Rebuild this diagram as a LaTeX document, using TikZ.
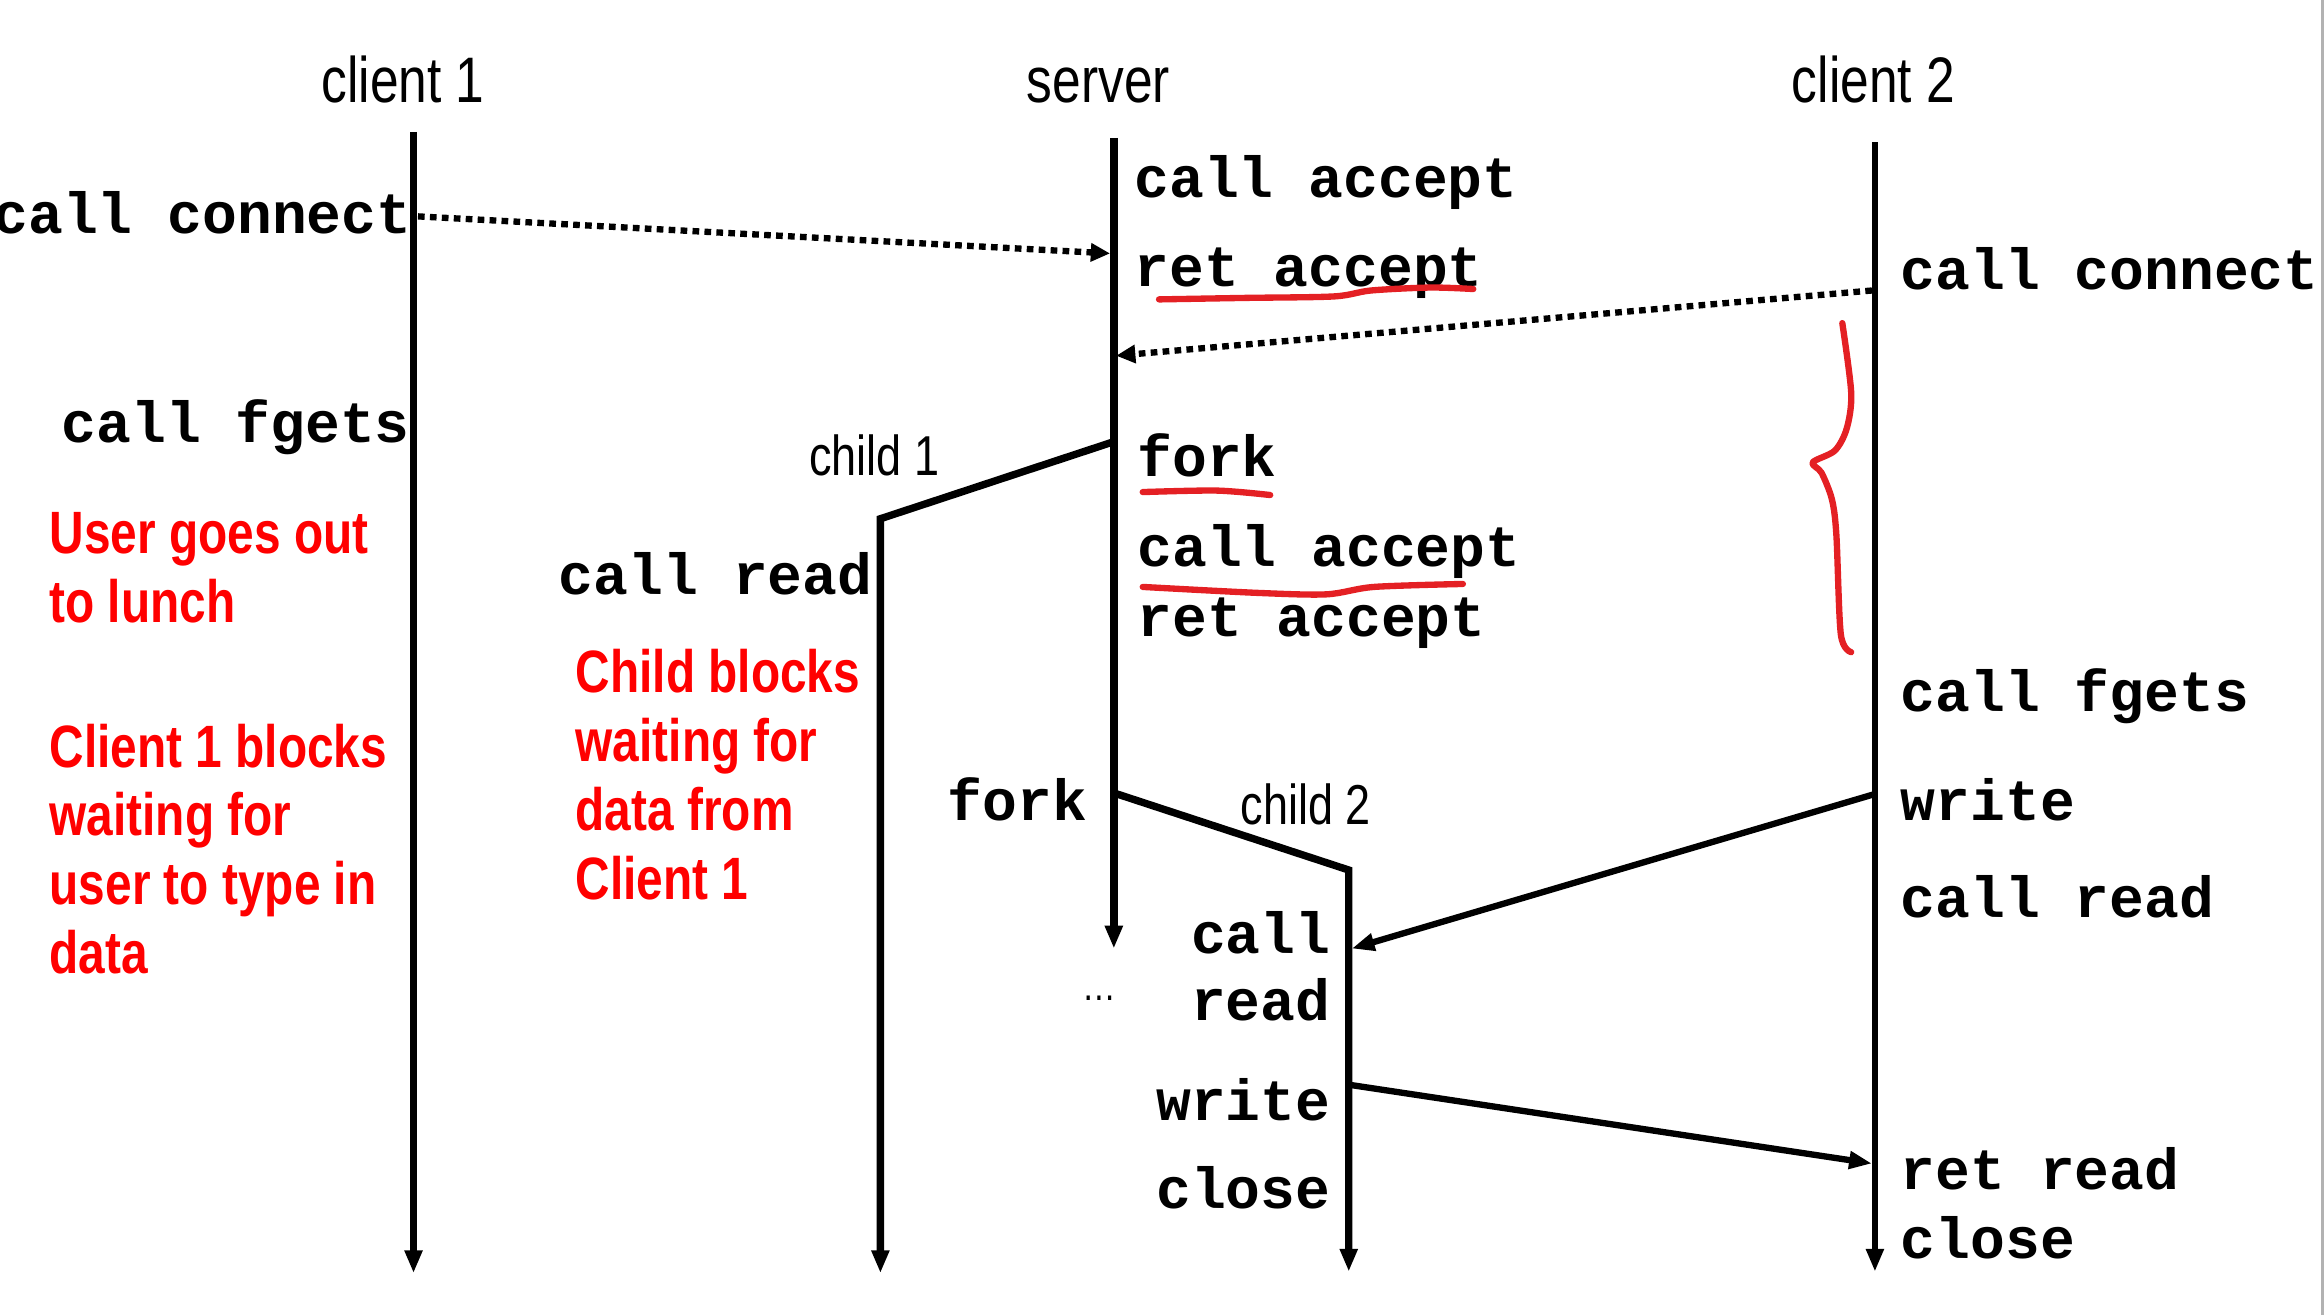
\documentclass[tikz,border=0pt]{standalone}
\usepackage{fontspec}
\usepackage{tikz}
\usetikzlibrary{arrows.meta,calc}
\newfontfamily\narrowsf[FakeStretch=0.8]{Liberation Sans}
\newfontfamily\codett{Liberation Mono}
\definecolor{penred}{RGB}{228,32,36}
\definecolor{edgegray}{RGB}{178,178,178}

\begin{document}
\begin{tikzpicture}[x=0.014821cm, y=-0.014821cm,
    code/.style={font=\codett\bfseries\fontsize{16.5}{18}\selectfont, inner sep=0pt, yshift=-1.4pt},
    who/.style={font=\narrowsf\fontsize{18.3}{20}\selectfont, inner sep=0pt, anchor=base},
    kid/.style={font=\narrowsf\fontsize{16}{18}\selectfont, inner sep=0pt, anchor=base},
    note/.style={font=\narrowsf\bfseries\fontsize{17}{19.6}\selectfont, text=red, align=left, inner sep=0pt, anchor=base west},
    life/.style={line width=2.1pt, line join=miter, -{Triangle[length=6.5pt,width=4.8pt]}},
    msg/.style={line width=1.8pt, -{Triangle[length=6.5pt,width=4.8pt]}},
    conn/.style={line width=1.8pt, dash pattern=on 1.9pt off 1.5pt, -{Triangle[length=5.5pt,width=5pt]}},
    pen/.style={penred, line width=1.8pt, line cap=round, line join=round}]
    \useasboundingbox (0,0) rectangle (1568,887);
    \fill[edgegray] (1566,0) rectangle (1568,887);

    \node[who] (hc1) at (272,69) {client 1};
    \node[who] (hsrv) at (741,69) {server};
    \node[who] (hc2) at (1264,69) {client 2};

    \coordinate (c1top) at (279,89);
    \coordinate (c1end) at (279,859);
    \coordinate (srvtop) at (751.5,93);
    \coordinate (srvend) at (751.5,640);
    \coordinate (c2top) at (1265,96);
    \coordinate (c2end) at (1265,858);
    \coordinate (fork1) at (751.5,298);
    \coordinate (ch1top) at (594,350);
    \coordinate (ch1end) at (594,859);
    \coordinate (fork2) at (751.5,535);
    \coordinate (ch2top) at (910,587);
    \coordinate (ch2end) at (910,858);

    \draw[life] (c1top) -- (c1end);
    \draw[life] (srvtop) -- (srvend);
    \draw[life, line width=1.6pt] (c2top) -- (c2end);
    \draw[life] (fork1) -- (ch1top) -- (ch1end);
    \draw[life] (fork2) -- (ch2top) -- (ch2end);

    \coordinate (c1conn) at (282,146);
    \coordinate (srvacc) at (749,171);
    \coordinate (c2conn) at (1263,196);
    \coordinate (srvacc2) at (753,240);
    \coordinate (c2write) at (1264,536);
    \coordinate (ch2read) at (912,640);
    \coordinate (ch2write) at (911,732);
    \coordinate (c2ret) at (1263,785);

    \draw[conn] (c1conn) -- (srvacc);
    \draw[conn] (c2conn) -- (srvacc2);
    \draw[msg] (c2write) -- (ch2read);
    \draw[msg] (ch2write) -- (c2ret);

    \node[code, anchor=base east] (c1t1) at (278,154) {call connect};
    \node[code, anchor=base east] (c1t2) at (277,295) {call fgets};
    \node[code, anchor=base west] (s1) at (765,130) {call accept};
    \node[code, anchor=base west] (s2) at (765,190) {ret accept};
    \node[code, anchor=base west] (s3) at (767,318) {fork};
    \node[code, anchor=base west] (s4) at (767,379) {call accept};
    \node[code, anchor=base west] (s5) at (767,426) {ret accept};
    \node[code, anchor=base east] (s6) at (734,550) {fork};
    \node[code, anchor=base east] (k1) at (589,398) {call read};
    \node[code, anchor=base east] (k2a) at (898,640) {call};
    \node[code, anchor=base east] (k2b) at (898,685) {read};
    \node[code, anchor=base east] (k2c) at (898,753) {write};
    \node[code, anchor=base east] (k2d) at (898,812) {close};
    \node[code, anchor=base west] (c2t1) at (1282,192) {call connect};
    \node[code, anchor=base west] (c2t2) at (1282,477) {call fgets};
    \node[code, anchor=base west] (c2t3) at (1282,550) {write};
    \node[code, anchor=base west] (c2t4) at (1282,616) {call read};
    \node[code, anchor=base west] (c2t5) at (1282,799) {ret read};
    \node[code, anchor=base west] (c2t6) at (1282,846) {close};

    \node[kid] (lk1) at (590,321) {child 1};
    \node[kid] (lk2) at (881,556) {child 2};
    \node[font=\narrowsf\fontsize{12}{14}\selectfont, inner sep=0pt, anchor=base] (dots) at (742,675) {…};

    \node[note] (n1) at (33,420) {User goes out\\to lunch};
    \node[note] (n2) at (33,657) {Client 1 blocks\\waiting for\\user to type in\\data};
    \node[note] (n3) at (388,607) {Child blocks\\waiting for\\data from\\Client 1};

    \draw[pen] plot[smooth] coordinates {(782,202) (840,201) (900,200) (925,196) (965,194) (994,195)};
    \draw[pen] plot[smooth] coordinates {(771,332) (821,331) (857,334)};
    \draw[pen] plot[smooth] coordinates {(771,396) (848,400) (895,401) (927,396) (987,394)};
    \draw[pen] plot[smooth, tension=0.5] coordinates {(1243,218) (1249,265) (1246,289) (1238,304) (1223,312) (1229,319) (1236,337) (1239,361) (1242,428) (1249,440)};
\end{tikzpicture}
\end{document}
